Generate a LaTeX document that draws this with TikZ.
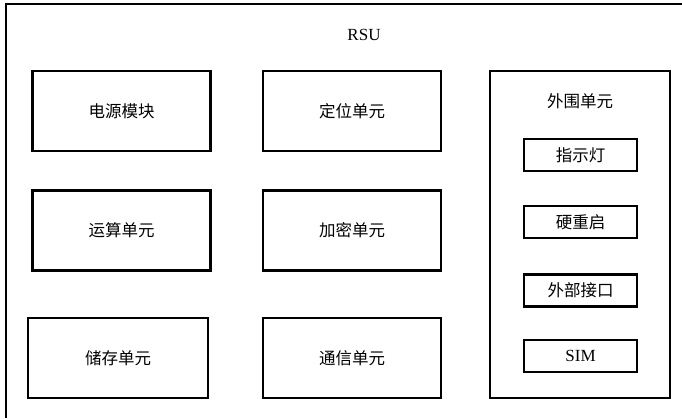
\documentclass[tikz,border=0pt]{standalone}
\usepackage{fontspec}
\setmainfont{Liberation Serif}
\newfontfamily\cjk{Noto Sans CJK SC}
\begin{document}
\begin{tikzpicture}[x=1pt,y=-1pt,
  cjkfont/.style={font=\cjk\fontsize{16.5}{16.5}\selectfont},
  blk/.style={draw,line width=2.2pt,minimum width=178pt,minimum height=80pt,inner sep=0pt,cjkfont},
  small/.style={draw,line width=2.2pt,minimum width=113pt,minimum height=32pt,inner sep=0pt,cjkfont},
  lbl/.style={inner sep=0pt,font=\fontsize{17}{17}\selectfont}]
\useasboundingbox (0,0) rectangle (682,418);
\fill[white] (0,0) rectangle (682,418);
\draw[line width=2.2pt] (6,418) -- (6,4) -- (682,4);
\node[lbl] (rsu) at (364,35) {RSU};
\node[blk] (power) at (121.5,111) {电源模块};
\node[blk] (pos) at (352,111) {定位单元};
\node[blk] (calc) at (121.5,230.5) {运算单元};
\node[blk] (enc) at (352,230.5) {加密单元};
\node[blk,minimum width=180pt] (store) at (118,358) {储存单元};
\node[blk] (comm) at (352,358) {通信单元};
\node[draw,line width=2.2pt,minimum width=180pt,minimum height=327pt,inner sep=0pt] (peri) at (580,234.5) {};
\node[inner sep=0pt,cjkfont] (perit) at (580,101) {外围单元};
\node[small] (led) at (580.5,155) {指示灯};
\node[small] (reset) at (580.5,222) {硬重启};
\node[small] (ext) at (580.5,290.5) {外部接口};
\node[small,font=\fontsize{17}{17}\selectfont] (sim) at (580.5,356) {SIM};
\end{tikzpicture}
\end{document}
